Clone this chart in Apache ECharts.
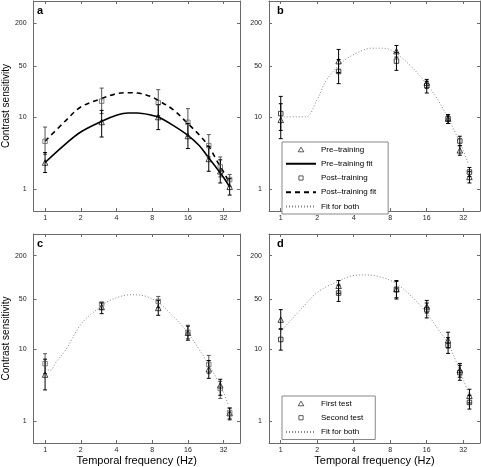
<!DOCTYPE html>
<html><head><meta charset="utf-8">
<script src="https://cdn.jsdelivr.net/npm/echarts@6/dist/echarts.min.js"></script>
<style>html,body{margin:0;padding:0;background:#fff}#c{width:481px;height:467px}</style>
</head><body><div id="c"></div>
<script>
// ---- data ----
const freq = [1, 3, 9, 16, 24, 30, 36];
const xTicks = [1, 2, 4, 8, 16, 32];
const yTicks = [1, 10, 50, 200];

// panel a
const aPre    = [2.34, 8.5, 9.95, 5.44, 2.62, 1.77, 1.08];
const aPreLo  = [1.7, 5.27, 6.67, 3.65, 1.77, 1.22, 0.83];
const aPreHi  = [3.21, 12.3, 14.8, 8.1, 3.9, 2.55, 1.4];
const aPost   = [4.6, 16.5, 15.7, 8.4, 4.01, 2.03, 1.36];
const aPostLo = [3.04, 11.1, 10.4, 5.4, 2.8, 1.48, 1.1];
const aPostHi = [7.24, 25, 23.8, 13, 5.69, 2.79, 1.6];
const aFitF    = [1, 1.5, 2, 3, 4, 5, 6, 8, 9, 12, 16, 20, 24, 28, 32, 36];
const aPreFit  = [2.34, 4.27, 6.18, 8.68, 10.5, 11.3, 11.3, 10.5, 9.95, 7.64, 5.56, 4.0, 2.7, 1.95, 1.45, 1.08];
const aPostFit = [4.6, 8.96, 13.7, 17.9, 20.9, 21.6, 21.4, 18.8, 16.9, 12.6, 8.07, 5.6, 3.9, 2.5, 1.73, 1.2];

// panel b
const bPre    = [9.1, 59, 81, 29.7, 9.46, 3.45, 1.48];
const bPreLo  = [5.0, 41, 67, 25, 8.1, 2.95, 1.22];
const bPreHi  = [15.2, 85.6, 97.2, 33, 10.7, 4.0, 1.75];
const bPost   = [11.1, 42.5, 59, 27, 9.46, 4.64, 1.73];
const bPostLo = [6.5, 28.8, 44, 21.4, 8.1, 4.0, 1.5];
const bPostHi = [19.2, 62, 78, 31, 10.7, 5.4, 2.0];
const bFitF = [1, 1.6, 2, 2.37, 3, 3.4, 4.38, 5.64, 6.81, 8.23, 11.3, 15.5, 19.9, 24.1, 28.2, 32, 35.2];
const bFit  = [10, 10, 17.5, 31.9, 51.4, 61.7, 78.5, 89.1, 89.1, 82.9, 54.3, 30.3, 16.9, 9.46, 5.56, 3.45, 2.26];

// panel c
const cFirst    = [4.46, 38.7, 37.6, 17, 5.28, 3.17, 1.3];
const cFirstLo  = [2.73, 31.3, 29.7, 13.4, 3.96, 2.3, 1.05];
const cFirstHi  = [7.3, 44, 48, 21, 7.0, 3.84, 1.53];
const cSecond   = [6.32, 42.6, 46.3, 17.3, 6.18, 2.86, 1.32];
const cSecondLo = [4.6, 36, 38, 14, 4.6, 2.08, 1.1];
const cSecondHi = [8.7, 44.9, 54.3, 21.6, 8.24, 3.6, 1.53];
const cFitF = [1, 1.1, 1.25, 1.5, 2.05, 2.96, 3.62, 5.29, 6.82, 8.94, 12, 16, 19.9, 23.9, 28.2, 32, 35.2];
const cFit  = [5.5, 5.1, 6.8, 9.97, 23.3, 39.5, 48.9, 57.3, 55.5, 44.9, 28.8, 17, 9.97, 6.18, 3.84, 2.51, 1.64];

// panel d
const dFirst    = [25.9, 76.3, 68.3, 39.5, 13.4, 5.16, 2.26];
const dFirstLo  = [19.3, 60, 52, 32, 10.5, 4.1, 1.8];
const dFirstHi  = [35.6, 90.3, 90.3, 47.8, 17.3, 6.38, 2.79];
const dSecond   = [13.7, 60.5, 68.3, 35.6, 11.3, 4.75, 1.83];
const dSecondLo = [9.75, 46.3, 50, 27.3, 8.78, 3.72, 1.48];
const dSecondHi = [19, 78, 88, 44, 14.5, 6.0, 2.3];
const dFitF = [1, 1.5, 2.05, 2.96, 3.86, 4.97, 6.4, 8.83, 12, 16, 19.9, 23.9, 28.2, 32, 35.2];
const dFit  = [17.7, 37.6, 63.7, 87.5, 105, 108, 103, 83.2, 54.3, 32, 18.8, 12.3, 6.53, 3.84, 2.51];

const legendB = ['Pre–training', 'Pre–training fit', 'Post–training', 'Post–training fit', 'Fit for both'];
const legendD = ['First test', 'Second test', 'Fit for both'];
const panelLetters = ['a', 'b', 'c', 'd'];
const yName = 'Contrast sensitivity';
const xName = 'Temporal frequency (Hz)';

// ---- layout / style ----
const FONT = 'Liberation Sans, Arial, Helvetica, sans-serif';
const FRAME = '#6a6a6a';
const GRAY = '#555';
const grids = [
  {left: 29, top: 1, width: 211, height: 210},
  {left: 269, top: 1, width: 211, height: 210},
  {left: 29, top: 234, width: 211, height: 210},
  {left: 269, top: 234, width: 211, height: 210}
];

const xAxes = [], yAxes = [];
grids.forEach((g, i) => {
  const bottomRow = i >= 2;
  const common = {
    type: 'log', logBase: 2, min: 0.8, max: 44, gridIndex: i,
    axisLine: {show: true, lineStyle: {color: FRAME, width: 1}},
    splitLine: {show: false}, minorTick: {show: false}
  };
  xAxes.push(Object.assign({}, common, {
    position: 'bottom',
    axisTick: {show: true, inside: true, length: 3, customValues: xTicks, lineStyle: {color: FRAME}},
    axisLabel: {show: true, customValues: xTicks, margin: 4, fontSize: 7, color: '#222', fontFamily: FONT,
      formatter: v => String(Math.round(v))},
    name: bottomRow ? xName : '', nameLocation: 'middle', nameGap: 12,
    nameTextStyle: {fontSize: 11, fontFamily: FONT, color: '#000'}
  }));
  xAxes.push(Object.assign({}, common, {
    position: 'top',
    axisTick: {show: true, inside: true, length: 3, customValues: xTicks, lineStyle: {color: FRAME}},
    axisLabel: {show: false}
  }));
  const ycommon = {
    type: 'log', logBase: 10, min: 0.5, max: 400, gridIndex: i,
    axisLine: {show: true, lineStyle: {color: FRAME, width: 1}},
    splitLine: {show: false}, minorTick: {show: false}
  };
  yAxes.push(Object.assign({}, ycommon, {
    position: 'left',
    axisTick: {show: true, inside: true, length: 3, customValues: yTicks, lineStyle: {color: FRAME}},
    axisLabel: {show: true, customValues: yTicks, margin: 7, fontSize: 7, color: '#222', fontFamily: FONT,
      formatter: v => String(Math.round(v))},
    name: (i % 2 === 0) ? yName : '', nameLocation: 'middle', nameGap: 17,
    nameTextStyle: {fontSize: 10, fontFamily: FONT, color: '#000'}
  }));
  yAxes.push(Object.assign({}, ycommon, {
    position: 'right',
    axisTick: {show: true, inside: true, length: 3, customValues: yTicks, lineStyle: {color: FRAME}},
    axisLabel: {show: false}
  }));
});

function pts(xs, ys) { return xs.map((x, i) => [x, ys[i]]); }

function errBars(panel, lo, hi, color) {
  return {
    type: 'custom', name: 'err' + panel + color, xAxisIndex: panel * 2, yAxisIndex: panel * 2,
    silent: true, z: 3, clip: false,
    data: freq.map((f, i) => [f, lo[i], hi[i]]),
    encode: {x: 0, y: [1, 2]},
    renderItem: (params, api) => {
      const t = api.coord([api.value(0), api.value(2)]);
      const b = api.coord([api.value(0), api.value(1)]);
      const w = 2;
      const st = {stroke: color, lineWidth: 1};
      return {type: 'group', children: [
        {type: 'line', shape: {x1: t[0], y1: t[1], x2: b[0], y2: b[1]}, style: st},
        {type: 'line', shape: {x1: t[0] - w, y1: t[1], x2: t[0] + w, y2: t[1]}, style: st},
        {type: 'line', shape: {x1: b[0] - w, y1: b[1], x2: b[0] + w, y2: b[1]}, style: st}
      ]};
    }
  };
}

function markers(panel, name, ys, symbol, color) {
  return {
    type: 'scatter', name: name, xAxisIndex: panel * 2, yAxisIndex: panel * 2,
    symbol: symbol, symbolSize: symbol === 'triangle' ? 5.5 : 4.5, z: 4,
    itemStyle: {color: 'rgba(255,255,255,0)', borderColor: color, borderWidth: 0.9},
    data: pts(freq, ys)
  };
}

function fitLine(panel, name, xs, ys, type, color, width) {
  return {
    type: 'line', name: name, xAxisIndex: panel * 2, yAxisIndex: panel * 2,
    symbol: 'none', smooth: 0.35, z: 2,
    lineStyle: {color: color, width: width, type: type},
    itemStyle: {color: color},
    data: pts(xs, ys)
  };
}

const series = [
  // a
  fitLine(0, 'Pre–training fit', aFitF, aPreFit, 'solid', '#000', 1.6),
  fitLine(0, 'Post–training fit', aFitF, aPostFit, [5, 4], '#000', 1.6),
  errBars(0, aPostLo, aPostHi, GRAY),
  errBars(0, aPreLo, aPreHi, '#000'),
  markers(0, 'Pre–training', aPre, 'triangle', '#000'),
  markers(0, 'Post–training', aPost, 'rect', GRAY),
  // b
  fitLine(1, 'Fit for both', bFitF, bFit, [1, 2], '#888', 1),
  errBars(1, bPostLo, bPostHi, '#000'),
  errBars(1, bPreLo, bPreHi, '#000'),
  markers(1, 'Pre–training', bPre, 'triangle', '#000'),
  markers(1, 'Post–training', bPost, 'rect', '#000'),
  // c
  fitLine(2, 'Fit for both', cFitF, cFit, [1, 2], '#888', 1),
  errBars(2, cSecondLo, cSecondHi, GRAY),
  errBars(2, cFirstLo, cFirstHi, '#000'),
  markers(2, 'c first', cFirst, 'triangle', '#000'),
  markers(2, 'c second', cSecond, 'rect', GRAY),
  // d
  fitLine(3, 'Fit for both', dFitF, dFit, [1, 2], '#888', 1),
  errBars(3, dSecondLo, dSecondHi, '#000'),
  errBars(3, dFirstLo, dFirstHi, '#000'),
  markers(3, 'First test', dFirst, 'triangle', '#000'),
  markers(3, 'Second test', dSecond, 'rect', '#000')
];

// legend icons: small marker centred in a 30x5 icon box (moveTo points only set the box)
const triIcon = 'path://M0,0M30,5M12.2,4.8L15,0.2L17.8,4.8Z';
const rectIcon = 'path://M0,0M30,5M12.9,0.4L17.1,0.4L17.1,4.6L12.9,4.6Z';
function legendItem(name) {
  if (/fit|Fit/.test(name)) {
    return {name: name, itemStyle: {color: 'rgba(0,0,0,0)', borderColor: 'rgba(0,0,0,0)', borderWidth: 0}};
  }
  const isTri = /Pre|First/.test(name);
  return {name: name, icon: isTri ? triIcon : rectIcon,
    itemStyle: {color: 'rgba(255,255,255,0)', borderColor: '#000', borderWidth: 0.8}};
}

const legendCommon = {
  orient: 'vertical', selectedMode: false, itemWidth: 30, itemHeight: 5, itemGap: 6.25,
  padding: [3.5, 12, 3.5, 3], borderColor: '#888', borderWidth: 1, backgroundColor: '#fff',
  textStyle: {fontSize: 8, fontFamily: FONT, color: '#000'}, z: 10
};

const titles = panelLetters.map((t, i) => ({
  text: t, left: grids[i].left + 8, top: grids[i].top + 4, padding: 0,
  textStyle: {fontSize: 11, fontWeight: 'bold', fontFamily: FONT, color: '#000'}
}));

const chart = echarts.init(document.getElementById('c'), null, {renderer: 'canvas'});
chart.setOption({
  animation: false,
  backgroundColor: '#fff',
  title: titles,
  grid: grids,
  xAxis: xAxes,
  yAxis: yAxes,
  legend: [
    Object.assign({}, legendCommon, {data: legendB.map(legendItem), left: 282, top: 142}),
    Object.assign({}, legendCommon, {data: legendD.map(legendItem), left: 282, top: 396})
  ],
  series: series
});
</script></body></html>
